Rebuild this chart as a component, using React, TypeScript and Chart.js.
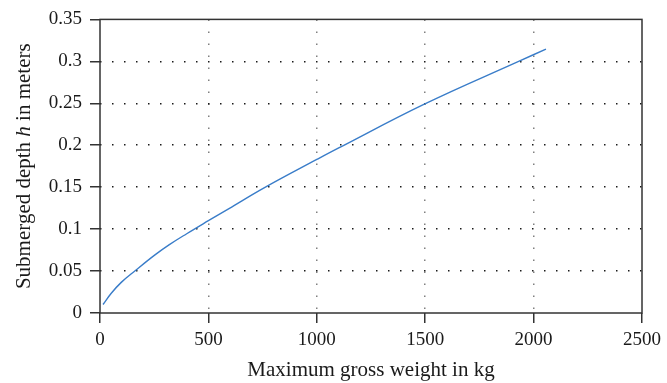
import React, { useEffect, useRef } from "react";
import { Chart, registerables } from "chart.js";

Chart.register(...registerables);

const weightKg = [14, 52, 98, 162, 252, 320, 400, 500, 595, 763, 1000, 1099, 1496, 1931, 2057];
const depthM = [0.0101, 0.0235, 0.0365, 0.0504, 0.069, 0.0815, 0.0945, 0.11, 0.1245, 0.15, 0.183, 0.1965, 0.249, 0.3, 0.3145];
const xTicks = [0, 500, 1000, 1500, 2000, 2500];
const yTicks = [0, 0.05, 0.1, 0.15, 0.2, 0.25, 0.3, 0.35];
const xTitle = "Maximum gross weight in kg";
const yTitleParts = ["Submerged depth ", "h", " in meters"];

const FONT = "'Liberation Serif', 'DejaVu Serif', serif";
const AXIS = "#333333";
const TEXT = "#1a1a1a";

const framePlugin = {
  id: "frame",
  afterDraw(chart: any) {
    const { ctx, chartArea } = chart;
    const { left, right, top, bottom } = chartArea;
    ctx.save();
    ctx.strokeStyle = AXIS;
    ctx.lineWidth = 1.5;
    ctx.strokeRect(left, top, right - left, bottom - top);
    ctx.fillStyle = TEXT;
    ctx.font = `21px ${FONT}`;
    ctx.textAlign = "center";
    ctx.textBaseline = "alphabetic";
    ctx.fillText(xTitle, (left + right) / 2, 376);
    ctx.translate(30, (top + bottom) / 2);
    ctx.rotate(-Math.PI / 2);
    const fonts = [`21px ${FONT}`, `italic 21px ${FONT}`, `21px ${FONT}`];
    let total = 0;
    const widths = yTitleParts.map((p, i) => {
      ctx.font = fonts[i];
      const w = ctx.measureText(p).width;
      total += w;
      return w;
    });
    let x = -total / 2;
    ctx.textAlign = "left";
    yTitleParts.forEach((p, i) => {
      ctx.font = fonts[i];
      ctx.fillText(p, x, 0);
      x += widths[i];
    });
    ctx.restore();
  },
};

export default function App() {
  const ref = useRef<HTMLCanvasElement>(null);
  useEffect(() => {
    document.body.style.margin = "0";
    const c = ref.current!;
    const chart = new Chart(c, {
      type: "scatter",
      data: {
        datasets: [
          {
            data: weightKg.map((w, i) => ({ x: w, y: depthM[i] })),
            showLine: true,
            borderColor: "#3a7dc9",
            borderWidth: 1.4,
            pointRadius: 0,
            tension: 0.4,
            fill: false,
          },
        ],
      },
      options: {
        animation: false,
        responsive: false,
        maintainAspectRatio: false,
        layout: { padding: { left: 0, top: 17, right: 21, bottom: 0 } },
        plugins: { legend: { display: false }, tooltip: { enabled: false } },
        scales: {
          x: {
            type: "linear",
            min: xTicks[0],
            max: xTicks[xTicks.length - 1],
            afterFit: (s: any) => {
              s.height = 70;
            },
            afterBuildTicks: (s: any) => {
              s.ticks = xTicks.map((v) => ({ value: v }));
            },
            border: { display: false, dash: [1.5, 10.5] },
            ticks: {
              color: TEXT,
              font: { family: FONT, size: 19 },
              padding: 6,
              maxRotation: 0,
              callback: (v: any) => String(v),
            },
            grid: {
              color: (ctx: any) => (ctx.index === 0 || ctx.index === xTicks.length - 1 ? "rgba(0,0,0,0)" : "#808080"),
              lineWidth: 1.5,
              tickColor: AXIS,
              tickLength: 10,
            },
          },
          y: {
            type: "linear",
            min: yTicks[0],
            max: yTicks[yTicks.length - 1],
            afterFit: (s: any) => {
              s.width = 100;
            },
            afterBuildTicks: (s: any) => {
              s.ticks = yTicks.map((v) => ({ value: v }));
            },
            border: { display: false, dash: [1.5, 10.5] },
            ticks: {
              color: TEXT,
              font: { family: FONT, size: 19 },
              padding: 8,
              callback: (v: any) => String(Number(Number(v).toFixed(2))),
            },
            grid: {
              color: (ctx: any) => (ctx.index === 0 || ctx.index === yTicks.length - 1 ? "rgba(0,0,0,0)" : "#1a1a1a"),
              lineWidth: 1.5,
              tickColor: AXIS,
              tickLength: 10,
            },
          },
        },
      },
      plugins: [framePlugin],
    });
    return () => chart.destroy();
  }, []);
  return (
    <div style={{ width: 667, height: 383 }}>
      <canvas ref={ref} width={667} height={383} style={{ width: 667, height: 383, display: "block" }} />
    </div>
  );
}
